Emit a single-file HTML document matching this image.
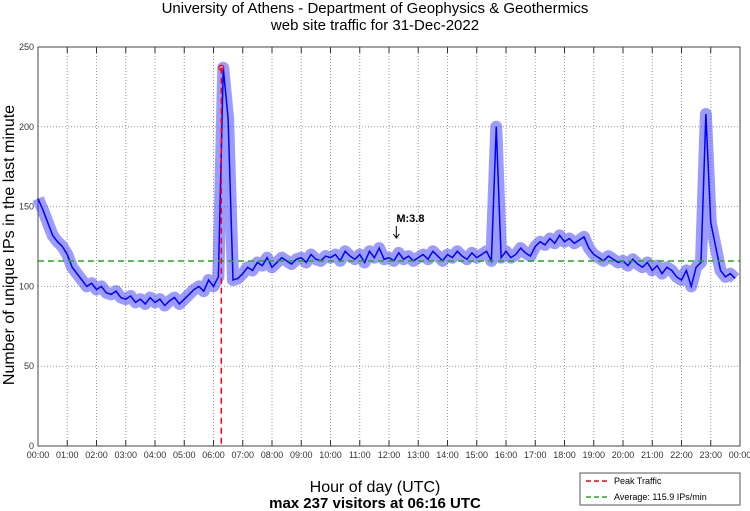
<!DOCTYPE html>
<html><head><meta charset="utf-8"><style>
body{margin:0;background:#fff;font-family:"Liberation Sans",sans-serif;}
svg{display:block}
</style></head><body>
<svg id="chart" width="750" height="511" xmlns="http://www.w3.org/2000/svg">
<text x="375" y="13" text-anchor="middle" font-size="15">University of Athens - Department of Geophysics &amp; Geothermics</text>
<text x="375" y="30" text-anchor="middle" font-size="15">web site traffic for 31-Dec-2022</text>
<g id="grid"></g>
<g id="axes"></g>
<g id="series"></g>
<text transform="translate(14,245) rotate(-90)" text-anchor="middle" font-size="16">Number of unique IPs in the last minute</text>
<text x="375" y="492" text-anchor="middle" font-size="16">Hour of day (UTC)</text>
<text x="375" y="508" text-anchor="middle" font-size="15" font-weight="bold">max 237 visitors at 06:16 UTC</text>
<g>
<rect x="580" y="473" width="160" height="32" fill="#fff" stroke="#555" stroke-width="1"/>
<line x1="586" y1="481" x2="609" y2="481" stroke="red" stroke-width="1.5" stroke-dasharray="5,3"/>
<text x="614" y="484" font-size="9">Peak Traffic</text>
<line x1="586" y1="497" x2="609" y2="497" stroke="#22aa22" stroke-width="1.5" stroke-dasharray="5,3"/>
<text x="614" y="500" font-size="9">Average: 115.9 IPs/min</text>
</g>
</svg>
<script>
const yTicks=[0,50,100,150,200,250];
const hourLabels=["00:00","01:00","02:00","03:00","04:00","05:00","06:00","07:00","08:00","09:00","10:00","11:00","12:00","13:00","14:00","15:00","16:00","17:00","18:00","19:00","20:00","21:00","22:00","23:00","00:00"];
// values every 10 minutes
const traffic=[
155,148,140,132,128,125,
120,112,108,104,100,102,
98,100,96,95,97,93,
92,94,90,92,89,93,
90,92,88,91,93,89,
92,95,98,100,97,104,
100,106,237,205,104,105,
108,112,110,115,113,118,
112,115,118,116,114,117,
118,115,120,117,116,119,
118,120,116,122,119,117,
120,115,122,118,124,117,
118,116,121,117,119,116,
118,120,117,122,119,116,
120,118,122,119,117,121,
118,120,122,116,200,118,
122,118,120,124,121,119,
125,128,126,130,127,132,
128,130,127,129,131,124,
120,118,116,119,117,115,
116,113,117,114,112,115,
110,113,108,112,110,106,
104,110,100,112,115,208,
140,125,110,106,108,105];
const stepMin=10;
const average=115.9;
const peakValue=237, peakHour=6+16/60;
const annotation={label:"M:3.8",hour:12.25};

const L=38,R=740,T=47,B=446;
const xs=h=>L+h/24*(R-L);
const ys=v=>B-v/250*(B-T);
const NS="http://www.w3.org/2000/svg";
function mk(parent,tag,attrs){const e=document.createElementNS(NS,tag);for(const k in attrs)e.setAttribute(k,attrs[k]);document.getElementById(parent).appendChild(e);return e;}

yTicks.forEach(v=>{
  if(v>0&&v<250){const g=mk('grid','line',{x1:L,x2:R,y1:ys(v),y2:ys(v),stroke:'#999','stroke-dasharray':'1,2'});
  
  }
  const t=mk('axes','text',{x:L-4,y:ys(v)+3,'text-anchor':'end','font-size':'9',fill:'#333'});t.textContent=v;
  
  
});
hourLabels.forEach((lab,i)=>{
  const x=xs(i);
  if(i>0&&i<24){const g=mk('grid','line',{x1:x,x2:x,y1:T,y2:B,stroke:'#999','stroke-dasharray':'1,2'});
  
  }
  mk('axes','line',{x1:x,x2:x,y1:B,y2:B-6,stroke:'#333'});
  mk('axes','line',{x1:x,x2:x,y1:T,y2:T+6,stroke:'#333'});
  const t=mk('axes','text',{x:x,y:B+12,'text-anchor':'middle','font-size':'9',fill:'#333'});t.textContent=lab;
  
  
});
const frame=mk('axes','rect',{x:L,y:T,width:R-L,height:B-T,fill:'none',stroke:'#444'});



const pts=traffic.map((v,i)=>xs(i*stepMin/60)+','+ys(v)).join(' ');
const band=mk('series','polyline',{points:pts,fill:'none',stroke:'#3a3aff','stroke-width':'12','stroke-opacity':'0.5','stroke-linejoin':'round'});


const line=mk('series','polyline',{points:pts,fill:'none',stroke:'#0000ff','stroke-width':'1.5'});



const avg=mk('series','line',{x1:L,x2:R,y1:ys(average),y2:ys(average),stroke:'#22aa22','stroke-width':'1.5','stroke-dasharray':'6,4'});


const pk=mk('series','line',{x1:xs(peakHour),x2:xs(peakHour),y1:ys(peakValue),y2:B,stroke:'red','stroke-width':'1.5','stroke-dasharray':'6,4'});


const pc=mk('series','circle',{cx:xs(peakHour),cy:ys(peakValue),r:2.5,fill:'none',stroke:'red','stroke-width':'1.2'});



const ax=xs(annotation.hour);
const at=mk('series','text',{x:ax,y:222,'font-size':'11','font-weight':'bold'});at.textContent=annotation.label;


const ar=mk('series','path',{d:`M${ax} 226 L${ax} 238 M${ax-3} 234 L${ax} 238 L${ax+3} 234`,stroke:'#000',fill:'none','stroke-width':'1'});


</script>
</body></html>
